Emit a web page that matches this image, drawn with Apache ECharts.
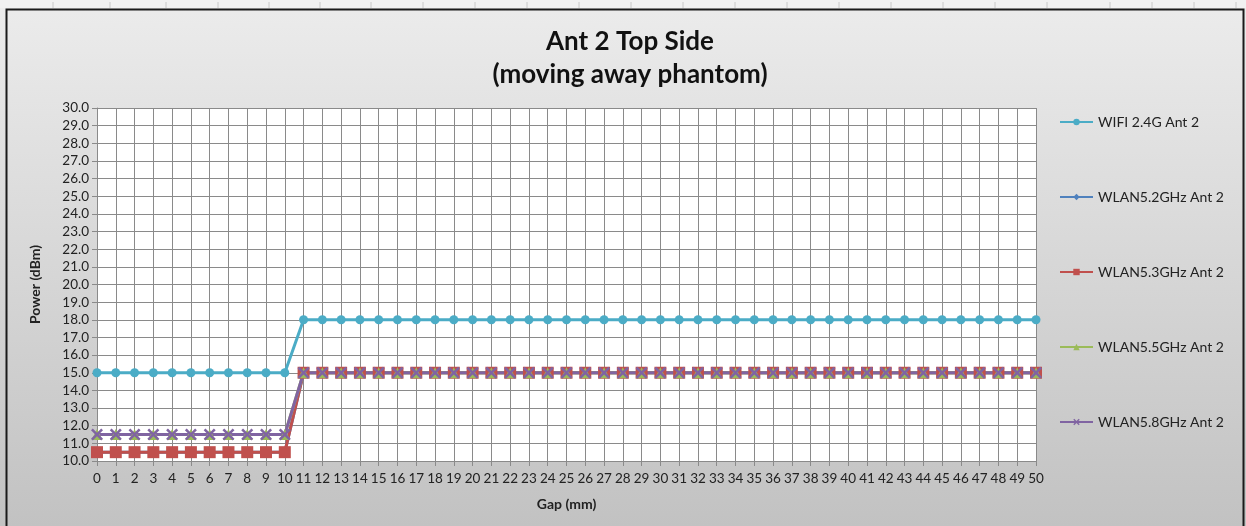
<!DOCTYPE html>
<html>
<head>
<meta charset="utf-8">
<script src="https://cdn.jsdelivr.net/npm/echarts@6/dist/echarts.min.js"></script>
<style>
  html, body { margin: 0; padding: 0; }
  #chart { width: 1246px; height: 526px; }
</style>
</head>
<body>
<div id="chart"></div>
<script>
// Gap from the phantom, in mm
var gaps = [];
for (var g = 0; g <= 50; g++) gaps.push(String(g));

// Measured conducted power (dBm) per gap, one list per band
var wifi24  = [15,15,15,15,15,15,15,15,15,15,15,
               18,18,18,18,18,18,18,18,18,18,18,18,18,18,18,18,18,18,18,18,
               18,18,18,18,18,18,18,18,18,18,18,18,18,18,18,18,18,18,18,18];
var wlan52  = [10.5,10.5,10.5,10.5,10.5,10.5,10.5,10.5,10.5,10.5,10.5,
               15,15,15,15,15,15,15,15,15,15,15,15,15,15,15,15,15,15,15,15,
               15,15,15,15,15,15,15,15,15,15,15,15,15,15,15,15,15,15,15,15];
var wlan53  = [10.5,10.5,10.5,10.5,10.5,10.5,10.5,10.5,10.5,10.5,10.5,
               15,15,15,15,15,15,15,15,15,15,15,15,15,15,15,15,15,15,15,15,
               15,15,15,15,15,15,15,15,15,15,15,15,15,15,15,15,15,15,15,15];
var wlan55  = [11.5,11.5,11.5,11.5,11.5,11.5,11.5,11.5,11.5,11.5,11.5,
               15,15,15,15,15,15,15,15,15,15,15,15,15,15,15,15,15,15,15,15,
               15,15,15,15,15,15,15,15,15,15,15,15,15,15,15,15,15,15,15,15];
var wlan58  = [11.5,11.5,11.5,11.5,11.5,11.5,11.5,11.5,11.5,11.5,11.5,
               15,15,15,15,15,15,15,15,15,15,15,15,15,15,15,15,15,15,15,15,
               15,15,15,15,15,15,15,15,15,15,15,15,15,15,15,15,15,15,15,15];

var seriesNames = ['WIFI 2.4G Ant 2', 'WLAN5.2GHz Ant 2', 'WLAN5.3GHz Ant 2',
                   'WLAN5.5GHz Ant 2', 'WLAN5.8GHz Ant 2'];

var FONT = 'Lato, "Open Sans", sans-serif';
var crossPath = 'path://M0,1.5L1.5,0L5,3.5L8.5,0L10,1.5L6.5,5L10,8.5L8.5,10L5,6.5L1.5,10L0,8.5L3.5,5Z';

function lineSeries(name, data, color, symbol, size) {
  return {
    name: name,
    type: 'line',
    data: data,
    symbol: symbol,
    symbolSize: size,
    showAllSymbol: true,
    lineStyle: { color: color, width: 3 },
    itemStyle: { color: color },
    emphasis: { disabled: true },
    animation: false
  };
}

// column marks of the sheet strip above the chart frame
var sheetTicks = [53, 110, 166, 218, 269, 320, 371, 423, 475, 527, 579, 631, 683, 735,
                  787, 839, 891, 943, 995, 1047, 1110, 1152, 1194, 1236];
var graphics = [
  { type: 'rect', shape: { x: 0, y: 0, width: 1246, height: 8 }, style: { fill: '#f1f1f1' }, z: 0 }
];
sheetTicks.forEach(function (x) {
  graphics.push({ type: 'line', shape: { x1: x, y1: 2, x2: x, y2: 8 },
                  style: { stroke: '#c8c8c8', lineWidth: 1 }, z: 1 });
});
graphics.push({ type: 'polyline',
  shape: { points: [[6.5, 530], [6.5, 9.5], [1243.5, 9.5], [1243.5, 530]] },
  style: { stroke: '#1a1a1a', lineWidth: 2, fill: null }, z: 2 });

var chart = echarts.init(document.getElementById('chart'), null, { renderer: 'canvas' });
chart.setOption({
  backgroundColor: {
    type: 'linear', x: 0, y: 0, x2: 0, y2: 1,
    colorStops: [{ offset: 0, color: '#ececec' }, { offset: 1, color: '#c2c2c2' }]
  },
  graphic: graphics,
  title: {
    text: 'Ant 2 Top Side\n(moving away phantom)',
    left: 625, top: 20, textAlign: 'center',
    textStyle: { fontFamily: FONT, fontSize: 26, fontWeight: 'bold', color: '#111', lineHeight: 33 }
  },
  legend: {
    orient: 'vertical',
    left: 1054, top: 110,
    itemWidth: 33, itemHeight: 8, itemGap: 61,
    textStyle: { fontFamily: FONT, fontSize: 14, color: '#222' },
    data: seriesNames
  },
  grid: { left: 97, right: 210, top: 108, bottom: 65, containLabel: false,
          show: true, backgroundColor: '#ffffff', borderWidth: 0 },
  xAxis: {
    type: 'category',
    data: gaps,
    boundaryGap: false,
    name: 'Gap (mm)',
    nameLocation: 'middle',
    nameGap: 36,
    nameTextStyle: { fontFamily: FONT, fontSize: 14, fontWeight: 'bold', color: '#222' },
    axisLine: { lineStyle: { color: '#8a8a8a', width: 1 } },
    axisTick: { show: true, interval: 0, length: 5, alignWithLabel: true, lineStyle: { color: '#8a8a8a' } },
    axisLabel: { interval: 0, fontFamily: FONT, fontSize: 13.5, color: '#222', margin: 11 },
    splitLine: { show: true, interval: 0, lineStyle: { color: '#8a8a8a', width: 1 } }
  },
  yAxis: {
    type: 'value',
    min: 10, max: 30, interval: 1,
    name: 'Power (dBm)',
    nameLocation: 'middle',
    nameGap: 55,
    nameRotate: 90,
    nameTextStyle: { fontFamily: FONT, fontSize: 14, fontWeight: 'bold', color: '#222' },
    axisLine: { show: true, lineStyle: { color: '#8a8a8a', width: 1 } },
    axisTick: { show: true, length: 5, lineStyle: { color: '#8a8a8a' } },
    axisLabel: { fontFamily: FONT, fontSize: 13.5, color: '#222', margin: 8,
                 formatter: function (v) { return v.toFixed(1); } },
    splitLine: { show: true, lineStyle: { color: '#8a8a8a', width: 1 } }
  },
  series: [
    lineSeries(seriesNames[0], wifi24, '#4bacc6', 'circle', 9),
    lineSeries(seriesNames[1], wlan52, '#4f81bd', 'diamond', 9),
    lineSeries(seriesNames[2], wlan53, '#c0504d', 'rect', 12),
    lineSeries(seriesNames[3], wlan55, '#9bbb59', 'triangle', 11),
    lineSeries(seriesNames[4], wlan58, '#8064a2', crossPath, 12)
  ]
});
</script>
</body>
</html>
